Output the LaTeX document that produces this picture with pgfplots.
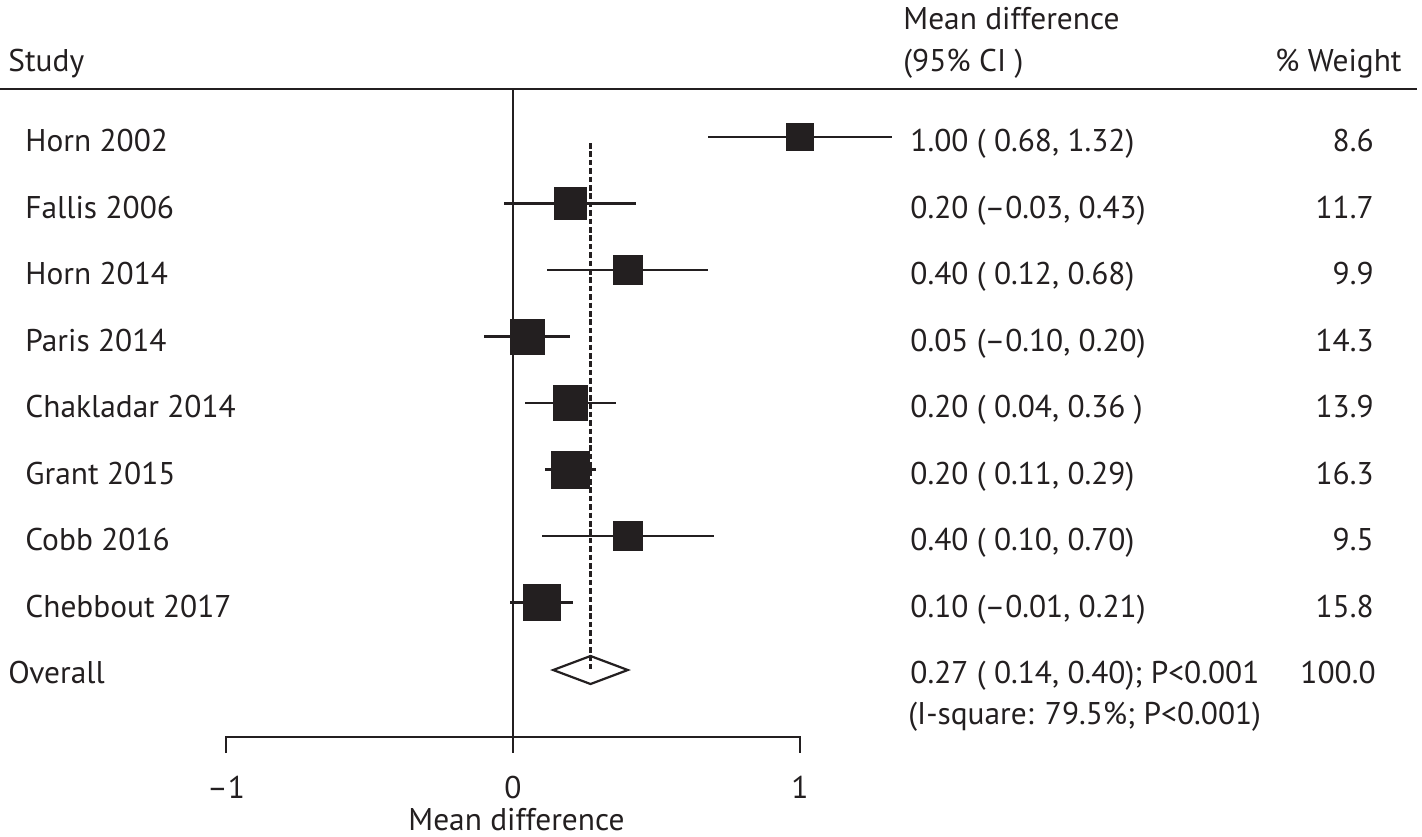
\documentclass[border=0pt]{standalone}
\usepackage{pgfplots}
\pgfplotsset{compat=1.18}
\usepackage{pgfplotstable}
\usepackage{fontspec}
\setmainfont{PT Sans}
\definecolor{ink}{RGB}{35,31,32}
\tikzset{
  lbl/.style={anchor=base west, text=ink, inner sep=0pt, font=\fontsize{15.7}{18}\selectfont},
  lbr/.style={anchor=base east, text=ink, inner sep=0pt, font=\fontsize{15.7}{18}\selectfont},
  lbc/.style={anchor=base, text=ink, inner sep=0pt, font=\fontsize{15.7}{18}\selectfont}}
% y = row position (pixel rows of the layout), est, lower, upper, weight
\pgfplotstableread{
y est lo hi w
137.0 1.00 0.68 1.32 8.6
203.5 0.20 -0.03 0.43 11.7
270.0 0.40 0.12 0.68 9.9
336.5 0.05 -0.10 0.20 14.3
403.0 0.20 0.04 0.36 13.9
469.5 0.20 0.11 0.29 16.3
536.0 0.40 0.10 0.70 9.5
602.5 0.10 -0.01 0.21 15.8
}\studies
\begin{document}
\begin{tikzpicture}
\begin{axis}[name=ax, scale only axis, width=711pt, height=418pt,
  xmin=-1.7875, xmax=3.1672, ymin=0, ymax=836, y dir=reverse,
  hide axis, clip=false]
% header rule
\addplot[ink, line width=1.3pt, forget plot] coordinates {(-1.7875,89) (3.150,89)};
% zero line
\addplot[ink, line width=1.1pt, forget plot] coordinates {(0,89) (0,753)};
% x axis
\addplot[ink, line width=1.1pt, forget plot] coordinates {(-1,753) (-1,737) (1,737) (1,753)};
% CIs
\addplot[only marks, mark=none, forget plot,
  error bars/.cd, x dir=both, x explicit, error mark=none,
  error bar style={draw=ink, line width=1.1pt}]
  table[x=est, y=y, x error minus expr=\thisrow{est}-\thisrow{lo}, x error plus expr=\thisrow{hi}-\thisrow{est}]{\studies};
% weighted squares
\addplot[scatter, only marks, mark=square*, forget plot,
  scatter/use mapped color={draw=ink, fill=ink},
  visualization depends on={2.3*sqrt(\thisrow{w})\as\msize},
  scatter/@pre marker code/.append style={/tikz/mark size=\msize, /tikz/line width=0.5pt}]
  table[x=est, y=y]{\studies};
% overall diamond
\addplot[ink, line width=1.1pt, fill=white, forget plot] coordinates {(0.14,670) (0.27,656) (0.40,670) (0.27,684) (0.14,670)} -- cycle;
% overall dashed line
\addplot[ink, line width=1.1pt, dash pattern=on 2.8pt off 1.4pt, forget plot] coordinates {(0.27,143) (0.27,670)};

% headers
\node[lbl] at (axis cs:{(8-513)/287},71) {Study};
\node[lbl] at (axis cs:{(903-513)/287},29) {Mean difference};
\node[lbl] at (axis cs:{(903-513)/287},71) {(95\% CI )};
\node[lbr] at (axis cs:{(1402-513)/287},71) {\% Weight};
% study names
\node[lbl] at (axis cs:{(25-513)/287},151.5) {Horn 2002};
\node[lbl] at (axis cs:{(25-513)/287},218) {Fallis 2006};
\node[lbl] at (axis cs:{(25-513)/287},284.5) {Horn 2014};
\node[lbl] at (axis cs:{(25-513)/287},351) {Paris 2014};
\node[lbl] at (axis cs:{(25-513)/287},417.5) {Chakladar 2014};
\node[lbl] at (axis cs:{(25-513)/287},484) {Grant 2015};
\node[lbl] at (axis cs:{(25-513)/287},550.5) {Cobb 2016};
\node[lbl] at (axis cs:{(25-513)/287},617) {Chebbout 2017};
\node[lbl] at (axis cs:{(8-513)/287},683.5) {Overall};
% estimates
\node[lbl] at (axis cs:{(910-513)/287},151.5) {1.00 ( 0.68, 1.32)};
\node[lbl] at (axis cs:{(910-513)/287},218) {0.20 (–0.03, 0.43)};
\node[lbl] at (axis cs:{(910-513)/287},284.5) {0.40 ( 0.12, 0.68)};
\node[lbl] at (axis cs:{(910-513)/287},351) {0.05 (–0.10, 0.20)};
\node[lbl] at (axis cs:{(910-513)/287},417.5) {0.20 ( 0.04, 0.36 )};
\node[lbl] at (axis cs:{(910-513)/287},484) {0.20 ( 0.11, 0.29)};
\node[lbl] at (axis cs:{(910-513)/287},550.5) {0.40 ( 0.10, 0.70)};
\node[lbl] at (axis cs:{(910-513)/287},617) {0.10 (–0.01, 0.21)};
\node[lbl] at (axis cs:{(910-513)/287},683.5) {0.27 ( 0.14, 0.40); P<0.001};
\node[lbl] at (axis cs:{(908-513)/287},724) {(I-square: 79.5\%; P<0.001)};
% weights
\node[lbr] at (axis cs:{(1374-513)/287},151.5) {8.6};
\node[lbr] at (axis cs:{(1374-513)/287},218) {11.7};
\node[lbr] at (axis cs:{(1374-513)/287},284.5) {9.9};
\node[lbr] at (axis cs:{(1374-513)/287},351) {14.3};
\node[lbr] at (axis cs:{(1374-513)/287},417.5) {13.9};
\node[lbr] at (axis cs:{(1374-513)/287},484) {16.3};
\node[lbr] at (axis cs:{(1374-513)/287},550.5) {9.5};
\node[lbr] at (axis cs:{(1374-513)/287},617) {15.8};
\node[lbr] at (axis cs:{(1376-513)/287},683.5) {100.0};
% tick labels and axis title
\node[lbc] at (axis cs:-1,798) {–1};
\node[lbc] at (axis cs:0,798) {0};
\node[lbc] at (axis cs:1,798) {1};
\node[lbc] at (axis cs:0.012,830) {Mean difference};
\end{axis}
\pgfresetboundingbox
\path[use as bounding box] (ax.south west) rectangle (ax.north east);
\end{tikzpicture}
\end{document}
